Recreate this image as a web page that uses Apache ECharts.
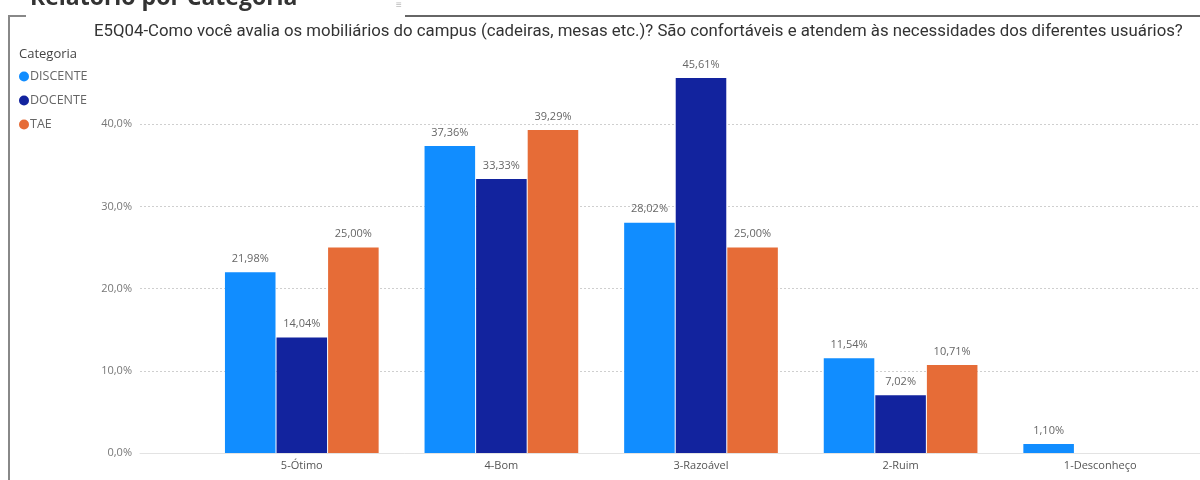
<!DOCTYPE html>
<html><head><meta charset="utf-8">
<script src="https://cdn.jsdelivr.net/npm/echarts@6/dist/echarts.min.js"></script>
<style>html,body{margin:0;padding:0;background:#fff}#c{width:1200px;height:480px}</style>
</head><body><div id="c"></div>
<script>
const categories = ['5-Ótimo', '4-Bom', '3-Razoável', '2-Ruim', '1-Desconheço'];
const seriesNames = ['DISCENTE', 'DOCENTE', 'TAE'];
const discente = [21.98, 37.36, 28.02, 11.54, 1.10];
const docente = [14.04, 33.33, 45.61, 7.02, null];
const tae = [25.00, 39.29, 25.00, 10.71, null];
const yTicks = [0, 10, 20, 30, 40];
const colors = ['#118DFF', '#12239E', '#E66C37'];

const fmtPct = v => v.toFixed(2).replace('.', ',') + '%';
const fmtAxis = v => v.toFixed(1).replace('.', ',') + '%';
const font = 'Open Sans, Noto Sans, sans-serif';

const chart = echarts.init(document.getElementById('c'), null, {renderer: 'canvas'});
const mk = (name, data, i) => ({
  name, type: 'bar', data, xAxisIndex: 1, yAxisIndex: 1,
  itemStyle: {color: colors[i]},
  barGap: '2%', barCategoryGap: '23%',
  label: {show: true, position: 'top', distance: 8, formatter: p => fmtPct(p.value),
    color: '#666', fontSize: 11, fontFamily: font},
  emphasis: {disabled: true}
});
chart.setOption({
  animation: false,
  title: [
    {text: 'E5Q04-Como você avalia os mobiliários do campus (cadeiras, mesas etc.)? São confortáveis e atendem às necessidades dos diferentes usuários?',
     left: 89, top: 18, textStyle: {fontSize: 16.8, fontWeight: 'normal', color: '#333', fontFamily: 'Roboto, sans-serif'}},
    {text: 'Categoria', left: 14, top: 43, textStyle: {fontSize: 13, fontWeight: 500, color: '#444', fontFamily: font}}
  ],
  legend: {
    orient: 'vertical', left: 14, top: 65, itemGap: 11, itemWidth: 10, itemHeight: 10,
    icon: 'circle', data: seriesNames,
    textStyle: {fontSize: 12.5, color: '#666', fontFamily: font, padding: [0, 0, 0, -4]}
  },
  graphic: [
    {type: 'text', left: 30, top: -13, style: {text: 'Relatório por Categoria', font: 'bold 23px ' + font, fill: '#333'}},
    {type: 'text', left: 396, top: 0, style: {text: '≡', font: '10px ' + font, fill: '#bbb'}},
    {type: 'polyline', shape: {points: [[26, 16], [9, 16], [9, 480]]}, style: {stroke: '#888', lineWidth: 2, fill: null}},
    {type: 'line', shape: {x1: 405, y1: 16, x2: 1200, y2: 16}, style: {stroke: '#666', lineWidth: 2}}
  ],
  grid: [
    {left: 140, right: 0, top: 42, bottom: 27},
    {left: 202, right: -2, top: 42, bottom: 27}
  ],
  xAxis: [
    {gridIndex: 0, type: 'category', data: categories, axisLabel: {show: false}, axisTick: {show: false},
     axisLine: {show: true, lineStyle: {color: '#e3e3e3', width: 1}}, splitLine: {show: false}},
    {gridIndex: 1, type: 'category', data: categories, axisTick: {show: false}, axisLine: {show: false},
     axisLabel: {color: '#555', fontSize: 11, fontFamily: font, margin: 7}}
  ],
  yAxis: [
    {gridIndex: 0, type: 'value', min: 0, max: 50, interval: 10,
     axisLabel: {color: '#777', fontSize: 11, fontFamily: font, margin: 8, showMaxLabel: false,
       formatter: v => yTicks.includes(v) ? fmtAxis(v) : ''},
     axisLine: {show: false}, axisTick: {show: false},
     splitLine: {show: true, showMinLine: false, showMaxLine: false, lineStyle: {color: '#cfcfcf', type: [2, 2], width: 1}}},
    {gridIndex: 1, type: 'value', min: 0, max: 50, interval: 10, show: false, splitLine: {show: false}}
  ],
  series: [mk(seriesNames[0], discente, 0), mk(seriesNames[1], docente, 1), mk(seriesNames[2], tae, 2)]
});
</script></body></html>
